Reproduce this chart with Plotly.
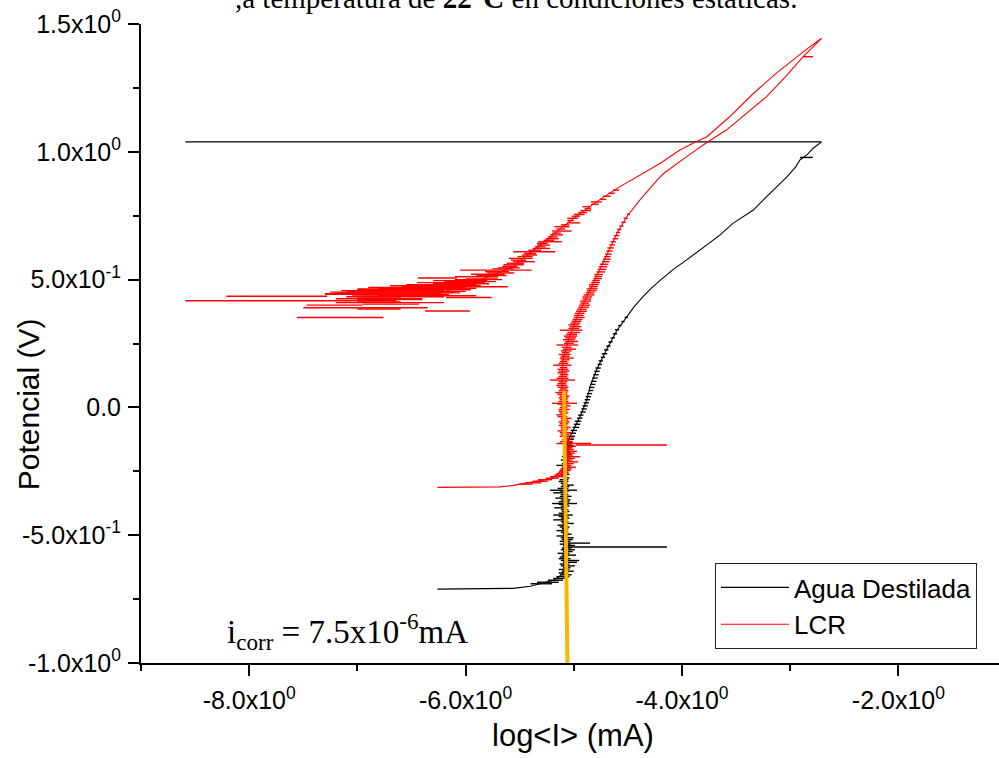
import plotly.graph_objects as go

# ---------------- data ----------------
# Agua Destilada: main curve
agua_x = [-6.26, -5.56, -5.40, -5.28, -5.18, -5.13, -5.09, -5.09, -5.10, -5.09,
          -5.09, -5.07, -5.05, -5.005, -4.943, -4.88, -4.85, -4.79, -4.70, -4.60,
          -4.51, -4.44, -4.36, -4.28, -4.20, -4.08, -3.96, -3.80, -3.65, -3.53,
          -3.42, -3.34, -3.22, -3.13, -3.03, -2.95, -2.91, -2.84, -2.79, -2.71, -8.59]
agua_y = [-0.711, -0.708, -0.700, -0.685, -0.675, -0.660, -0.640, -0.550, -0.450, -0.350,
          -0.250, -0.170, -0.128, -0.089, -0.037, 0.029, 0.081, 0.146, 0.224, 0.302,
          0.354, 0.395, 0.433, 0.468, 0.498, 0.540, 0.576, 0.625, 0.674, 0.720,
          0.750, 0.772, 0.824, 0.860, 0.902, 0.940, 0.968, 0.990, 1.013, 1.039, 1.039]
# Agua Destilada: horizontal noise spikes (potential, left end, right end)
agua_spike_y = [-0.690, -0.684, -0.676, -0.669,
                -0.662, -0.655, -0.648, -0.641, -0.634, -0.627, -0.620, -0.613, -0.606, -0.599,
                -0.592, -0.585, -0.578, -0.571, -0.564, -0.557, -0.550, -0.546, -0.540, -0.535,
                -0.531, -0.524, -0.517, -0.510, -0.503, -0.496, -0.489, -0.482, -0.475, -0.468,
                -0.461, -0.454, -0.447, -0.440, -0.433, -0.426, -0.421, -0.414, -0.407, -0.400,
                -0.393, -0.386, -0.379, -0.376, -0.369, -0.362, -0.355, -0.348, -0.341, -0.334,
                -0.327, -0.324, -0.317, -0.310, -0.304, -0.297, -0.290, -0.283, -0.276, -0.269,
                -0.262, -0.255, -0.248, -0.241, -0.234, -0.227, -0.220, -0.213, -0.206, -0.199,
                -0.192, -0.185, -0.178, -0.171, -0.164, -0.157, -0.150, -0.143, -0.136,
                -0.125, -0.113, -0.101, -0.090, -0.078, -0.066, -0.054, -0.042, -0.030, -0.018,
                -0.006, 0.006, 0.018, 0.030, 0.042, 0.054, 0.066, 0.078, 0.090, 0.102,
                0.115, 0.128, 0.141, 0.154, 0.168, 0.182, 0.196, 0.210, 0.225, 0.240,
                0.256, 0.272, 0.288, 0.304, 0.320, 0.336, 0.352, 0.978]
agua_spike_x0 = [-5.40, -5.34, -5.24, -5.19,
                 -5.16, -5.12, -5.14, -5.11, -5.14, -5.10, -5.12, -5.13, -5.10, -5.12,
                 -5.14, -5.13, -5.11, -5.15, -5.10, -5.12, -5.11, -5.08, -5.10, -5.13,
                 -5.09, -5.13, -5.11, -5.12, -5.16, -5.10, -5.12, -5.16, -5.11, -5.13,
                 -5.15, -5.10, -5.12, -5.19, -5.12, -5.14, -5.19, -5.14, -5.11, -5.12,
                 -5.18, -5.12, -5.14, -5.20, -5.14, -5.12, -5.17, -5.13, -5.12, -5.19,
                 -5.13, -5.22, -5.15, -5.12, -5.11, -5.12, -5.14, -5.13, -5.10, -5.15,
                 -5.12, -5.11, -5.13, -5.12, -5.10, -5.16, -5.11, -5.10, -5.12, -5.10,
                 -5.11, -5.09, -5.10, -5.10, -5.08, -5.10, -5.07, -5.08, -5.07,
                 -5.06, -5.05, -5.04, -5.03, -5.01, -5.00, -4.99, -4.97, -4.96, -4.94,
                 -4.93, -4.92, -4.91, -4.90, -4.89, -4.88, -4.86, -4.86, -4.85, -4.84,
                 -4.83, -4.82, -4.81, -4.80, -4.78, -4.77, -4.75, -4.74, -4.72, -4.70,
                 -4.68, -4.66, -4.64, -4.62, -4.59, -4.56, -4.53, -2.91]
agua_spike_x1 = [-5.20, -5.14, -5.10, -5.06,
                 -5.04, -5.02, -5.05, -5.00, -5.04, -5.03, -4.99, -5.04, -4.97, -4.95,
                 -5.03, -5.05, -4.98, -5.04, -5.01, -4.99, -5.02, -4.14, -4.99, -5.03,
                 -4.85, -5.03, -5.01, -5.00, -5.05, -5.02, -5.05, -5.06, -5.05, -5.04,
                 -5.06, -5.00, -5.05, -5.06, -5.04, -5.05, -5.01, -5.06, -5.04, -5.05,
                 -5.07, -5.04, -5.05, -4.97, -5.04, -5.03, -5.05, -5.02, -5.05, -5.06,
                 -5.04, -4.97, -5.05, -5.04, -5.00, -5.06, -5.05, -5.05, -5.04, -5.06,
                 -5.04, -5.05, -5.06, -5.05, -5.04, -5.06, -5.04, -5.05, -5.04, -5.03,
                 -5.05, -5.02, -5.03, -5.04, -5.02, -5.03, -5.00, -5.02, -5.01,
                 -5.00, -4.99, -4.98, -4.97, -4.95, -4.94, -4.93, -4.92, -4.91, -4.89,
                 -4.88, -4.87, -4.86, -4.85, -4.84, -4.83, -4.82, -4.81, -4.80, -4.79,
                 -4.78, -4.77, -4.76, -4.75, -4.74, -4.73, -4.71, -4.69, -4.68, -4.66,
                 -4.64, -4.62, -4.60, -4.58, -4.56, -4.53, -4.50, -2.79]

# LCR: main curve (forward scan then reverse scan)
lcr_x = [-6.26, -5.68, -5.56, -5.37, -5.28, -5.19, -5.14, -5.11, -5.06, -5.04,
         -5.08, -5.10, -5.10, -5.11, -5.10, -5.04, -4.97, -4.88, -4.79, -4.70,
         -4.60, -4.51, -4.39, -4.23, -4.17, -3.96, -3.76, -3.59, -3.40, -3.22,
         -3.03, -2.88, -2.71,
         -2.88, -3.13, -3.34, -3.56, -3.77, -3.87, -4.02, -4.20, -4.42, -4.60,
         -4.79, -4.94, -5.10, -5.25, -5.41, -5.56, -5.87, -6.24, -6.64, -7.10]
lcr_y = [-0.313, -0.311, -0.305, -0.291, -0.284, -0.274, -0.258, -0.239, -0.200, -0.150,
         -0.100, -0.050, 0.000, 0.107, 0.185, 0.276, 0.354, 0.433, 0.511, 0.589,
         0.681, 0.746, 0.811, 0.889, 0.915, 0.980, 1.039, 1.085, 1.150, 1.215,
         1.300, 1.372, 1.444,
         1.391, 1.307, 1.228, 1.137, 1.059, 1.039, 1.007, 0.955, 0.902, 0.857,
         0.804, 0.759, 0.707, 0.654, 0.603, 0.550, 0.498, 0.446, 0.439, 0.433]
# LCR: horizontal noise spikes (potential, left end, right end)
lcr_spike_y = [-0.300, -0.295, -0.289, -0.283, -0.277, -0.271, -0.265, -0.259, -0.253, -0.247,
               -0.241, -0.234, -0.227, -0.220, -0.213, -0.206, -0.199, -0.193, -0.186, -0.179,
               -0.172, -0.165, -0.158, -0.152, -0.147, -0.141, -0.134, -0.127, -0.120, -0.113,
               -0.106, -0.099, -0.092, -0.085, -0.078, -0.071, -0.064, -0.057, -0.050, -0.043,
               -0.036, -0.029, -0.022, -0.015, -0.008, -0.001, 0.006, 0.013, 0.016, 0.023,
               0.030, 0.037, 0.044, 0.051, 0.058, 0.065, 0.072, 0.079, 0.086, 0.093,
               0.100, 0.107, 0.114, 0.121, 0.128, 0.135, 0.142, 0.149, 0.156, 0.165,
               0.172, 0.179, 0.186, 0.193, 0.200, 0.207, 0.214, 0.221, 0.228, 0.235,
               0.244, 0.251, 0.258, 0.265, 0.272, 0.279, 0.286, 0.293, 0.302, 0.309,
               0.316, 0.323, 0.330, 0.337, 0.344, 0.352, 0.360, 0.368, 0.376, 0.384,
               0.392, 0.400, 0.408, 0.416, 0.424, 0.432, 0.440, 0.448, 0.456, 0.464,
               0.472, 0.480, 0.488, 0.496, 0.504, 0.512, 0.520, 0.530, 0.540, 0.550,
               0.560, 0.570, 0.580, 0.590, 0.600, 0.612, 0.624, 0.636, 0.648, 0.660,
               0.672, 0.684, 0.696, 0.710, 0.724, 0.740, 0.756, 1.372,
               0.850, 0.838, 0.826, 0.814, 0.804, 0.795, 0.785, 0.777, 0.770, 0.762,
               0.755, 0.748, 0.740, 0.731, 0.722, 0.714, 0.707, 0.698, 0.690, 0.682,
               0.675, 0.667, 0.660, 0.654, 0.648, 0.642, 0.635, 0.628, 0.622, 0.615,
               0.609, 0.602, 0.596, 0.590, 0.583, 0.576, 0.570, 0.564, 0.558, 0.552,
               0.546, 0.542, 0.537, 0.531, 0.526, 0.521, 0.516, 0.511, 0.506, 0.503,
               0.500, 0.496, 0.492, 0.488, 0.484, 0.480, 0.476, 0.472, 0.469, 0.466,
               0.463, 0.460, 0.457, 0.454, 0.451, 0.448, 0.445, 0.442, 0.440, 0.437,
               0.435, 0.433, 0.430, 0.428, 0.425, 0.422, 0.417, 0.413, 0.410, 0.404,
               0.400, 0.390, 0.385, 0.377, 0.352]
lcr_spike_x0 = [-5.50, -5.45, -5.38, -5.33, -5.26, -5.22, -5.18, -5.16, -5.14, -5.12,
                -5.11, -5.09, -5.10, -5.08, -5.07, -5.09, -5.07, -5.06, -5.09, -5.07,
                -5.08, -5.06, -5.09, -5.07, -4.98, -5.16, -5.13, -5.11, -5.10, -5.13,
                -5.12, -5.13, -5.15, -5.12, -5.12, -5.14, -5.13, -5.14, -5.12, -5.12,
                -5.15, -5.16, -5.13, -5.14, -5.14, -5.13, -5.12, -5.15, -5.20, -5.14,
                -5.13, -5.14, -5.13, -5.15, -5.17, -5.14, -5.13, -5.15, -5.16, -5.15,
                -5.14, -5.22, -5.16, -5.14, -5.13, -5.15, -5.14, -5.15, -5.13, -5.19,
                -5.14, -5.13, -5.12, -5.13, -5.12, -5.14, -5.11, -5.12, -5.10, -5.11,
                -5.16, -5.09, -5.08, -5.10, -5.08, -5.09, -5.07, -5.06, -5.13, -5.05,
                -5.04, -5.05, -5.03, -5.02, -5.01, -5.00, -5.00, -4.99, -4.98, -4.97,
                -4.96, -4.95, -4.94, -4.94, -4.92, -4.92, -4.91, -4.89, -4.88, -4.88,
                -4.86, -4.86, -4.84, -4.83, -4.82, -4.81, -4.81, -4.79, -4.78, -4.77,
                -4.76, -4.74, -4.73, -4.72, -4.71, -4.70, -4.69, -4.67, -4.66, -4.64,
                -4.63, -4.61, -4.60, -4.58, -4.56, -4.54, -4.51, -2.88,
                -4.64, -4.68, -4.73, -4.76, -4.84, -4.84, -4.92, -4.90, -4.94, -4.96,
                -5.00, -5.02, -5.06, -5.06, -5.06, -5.12, -5.18, -5.16, -5.20, -5.20,
                -5.22, -5.24, -5.26, -5.28, -5.33, -5.34, -5.34, -5.36, -5.38, -5.42,
                -5.56, -5.46, -5.48, -5.52, -5.60, -5.58, -5.56, -5.62, -5.65, -5.66,
                -5.70, -5.75, -6.05, -5.82, -5.80, -5.95, -5.90, -6.10, -6.44, -6.00,
                -6.10, -6.30, -6.20, -6.45, -6.30, -6.55, -6.70, -6.59, -6.90, -6.80,
                -7.00, -7.00, -7.15, -7.10, -7.25, -7.20, -7.30, -7.30, -7.05, -6.80,
                -8.21, -7.10, -6.18, -7.00, -7.20, -7.00, -8.59, -7.00, -7.20, -6.95,
                -7.47, -7.50, -7.00, -6.375, -7.56]
lcr_spike_x1 = [-5.38, -5.30, -5.24, -5.20, -5.14, -5.10, -5.08, -5.06, -5.05, -5.03,
                -5.02, -4.98, -5.02, -5.00, -4.96, -5.01, -4.99, -4.94, -5.01, -4.99,
                -4.97, -5.00, -5.01, -4.98, -4.14, -4.84, -5.01, -5.03, -5.00, -5.05,
                -5.04, -5.02, -5.06, -5.05, -5.03, -5.06, -5.05, -5.04, -5.05, -5.02,
                -5.06, -5.07, -5.05, -5.06, -5.04, -5.06, -5.03, -5.06, -4.97, -5.05,
                -5.06, -5.05, -5.04, -5.06, -5.06, -5.05, -5.06, -5.05, -5.06, -5.07,
                -5.06, -4.99, -5.05, -5.06, -5.05, -5.06, -5.04, -5.05, -5.06, -5.02,
                -5.05, -5.06, -5.04, -5.00, -5.04, -5.03, -5.04, -5.02, -4.98, -5.02,
                -4.96, -5.00, -4.96, -4.99, -4.98, -4.97, -4.97, -4.94, -4.92, -4.95,
                -4.93, -4.95, -4.94, -4.93, -4.92, -4.90, -4.91, -4.90, -4.88, -4.88,
                -4.86, -4.85, -4.86, -4.84, -4.84, -4.83, -4.81, -4.81, -4.79, -4.78,
                -4.78, -4.77, -4.76, -4.76, -4.74, -4.74, -4.73, -4.71, -4.70, -4.69,
                -4.68, -4.67, -4.66, -4.66, -4.65, -4.64, -4.63, -4.62, -4.61, -4.59,
                -4.58, -4.57, -4.56, -4.54, -4.52, -4.50, -4.48, -2.79,
                -4.58, -4.62, -4.66, -4.70, -4.74, -4.77, -4.84, -4.84, -4.84, -4.88,
                -4.90, -4.94, -4.96, -5.00, -4.94, -5.04, -5.04, -5.08, -5.02, -5.12,
                -5.10, -5.15, -5.14, -5.18, -5.11, -5.24, -5.22, -5.26, -5.22, -5.30,
                -5.17, -5.35, -5.34, -5.38, -5.38, -5.44, -5.36, -5.46, -5.46, -5.52,
                -5.50, -5.56, -5.39, -5.60, -5.55, -5.64, -5.62, -5.70, -6.08, -5.70,
                -5.66, -5.80, -5.72, -5.82, -5.78, -5.90, -5.86, -5.61, -6.00, -5.90,
                -6.10, -5.95, -6.20, -6.00, -6.10, -6.05, -6.30, -6.15, -6.40, -5.90,
                -7.28, -6.20, -5.76, -6.60, -6.40, -6.40, -6.64, -6.60, -6.20, -6.43,
                -6.95, -6.35, -6.60, -5.96, -6.76]

# i_corr guide line
icorr_x = [-5.09, -5.058]
icorr_y = [0.066, -1.035]

x_tickvals = [-8, -6, -4, -2]
x_ticktext = ["-8.0x10<sup>0</sup>", "-6.0x10<sup>0</sup>", "-4.0x10<sup>0</sup>", "-2.0x10<sup>0</sup>"]
x_minor = [-9, -7, -5, -3]
y_tickvals = [-1.0, -0.5, 0.0, 0.5, 1.0, 1.5]
y_ticktext = ["-1.0x10<sup>0</sup>", "-5.0x10<sup>-1</sup>", "0.0",
              "5.0x10<sup>-1</sup>", "1.0x10<sup>0</sup>", "1.5x10<sup>0</sup>"]
y_minor = [-0.75, -0.25, 0.25, 0.75, 1.25]

SANS = "Liberation Sans, Arial, sans-serif"
SERIF = "Liberation Serif, Times New Roman, serif"


def spike_path(ys, x0s, x1s):
    xs, yy = [], []
    for y, a, b in zip(ys, x0s, x1s):
        xs += [a, b, None]
        yy += [y, y, None]
    return xs, yy


fig = go.Figure()
fig.add_trace(go.Scatter(x=agua_x, y=agua_y, mode="lines", name="Agua Destilada",
                         line=dict(color="#000000", width=1.1)))
sx, sy = spike_path(agua_spike_y, agua_spike_x0, agua_spike_x1)
fig.add_trace(go.Scatter(x=sx, y=sy, mode="lines", showlegend=False,
                         line=dict(color="#000000", width=1.4)))
fig.add_trace(go.Scatter(x=lcr_x, y=lcr_y, mode="lines", name="LCR",
                         line=dict(color="#ff0000", width=1.1)))
sx, sy = spike_path(lcr_spike_y, lcr_spike_x0, lcr_spike_x1)
fig.add_trace(go.Scatter(x=sx, y=sy, mode="lines", showlegend=False,
                         line=dict(color="#ff0000", width=1.4)))
fig.add_trace(go.Scatter(x=icorr_x, y=icorr_y, mode="lines", showlegend=False,
                         line=dict(color="#ffb400", width=4)))

axis_common = dict(showline=True, linecolor="black", linewidth=2, ticks="outside",
                   ticklen=11, tickwidth=2, tickcolor="black", showgrid=False,
                   zeroline=False, tickfont=dict(family=SANS, size=25, color="black"))

fig.update_layout(
    width=999, height=758,
    margin=dict(l=141, r=0, t=24, b=95),
    paper_bgcolor="white", plot_bgcolor="white",
    xaxis=dict(range=[-9, -1.07], tickmode="array", tickvals=x_tickvals, ticktext=x_ticktext,
               minor=dict(tickvals=x_minor, ticks="outside", ticklen=6, tickwidth=2, tickcolor="black"),
               ticklabelstandoff=3, **axis_common),
    yaxis=dict(range=[-1, 1.5], tickmode="array", tickvals=y_tickvals, ticktext=y_ticktext,
               minor=dict(tickvals=y_minor, ticks="outside", ticklen=6, tickwidth=2, tickcolor="black"),
               ticklabelstandoff=2, **axis_common),
    legend=dict(x=0.669, y=0.0892, xanchor="left", yanchor="middle", bgcolor="white",
                bordercolor="#222", borderwidth=1, itemwidth=68, tracegroupgap=0,
                font=dict(family=SANS, size=26, color="black")),
    showlegend=True,
    annotations=[
        dict(text="Potencial (V)", xref="paper", yref="paper", x=-0.1317, y=0.405,
             xanchor="center", yanchor="middle",
             textangle=-90, showarrow=False, font=dict(family=SANS, size=30, color="black")),
        dict(text="log&lt;I&gt; (mA)", xref="paper", yref="paper", x=0.5035, y=-0.1142,
             xanchor="center", yanchor="middle",
             showarrow=False, font=dict(family=SANS, size=31, color="black")),
        dict(text="i<sub>corr</sub> = 7.5x10<sup>-6</sup>mA", xref="paper", yref="paper",
             x=0.2406, y=0.049, xanchor="center", yanchor="middle",
             showarrow=False, font=dict(family=SERIF, size=33, color="black")),
        dict(text=",a temperatura de <b>22°C</b> en condiciones estáticas.", xref="paper", yref="paper",
             x=0.437, y=1.040, xanchor="center", yanchor="middle", showarrow=False,
             font=dict(family=SERIF, size=29, color="black")),
    ],
)

fig.write_html("out.html", config={"displayModeBar": False},
               post_script="document.body.style.margin='0';document.body.style.overflow='hidden';")
